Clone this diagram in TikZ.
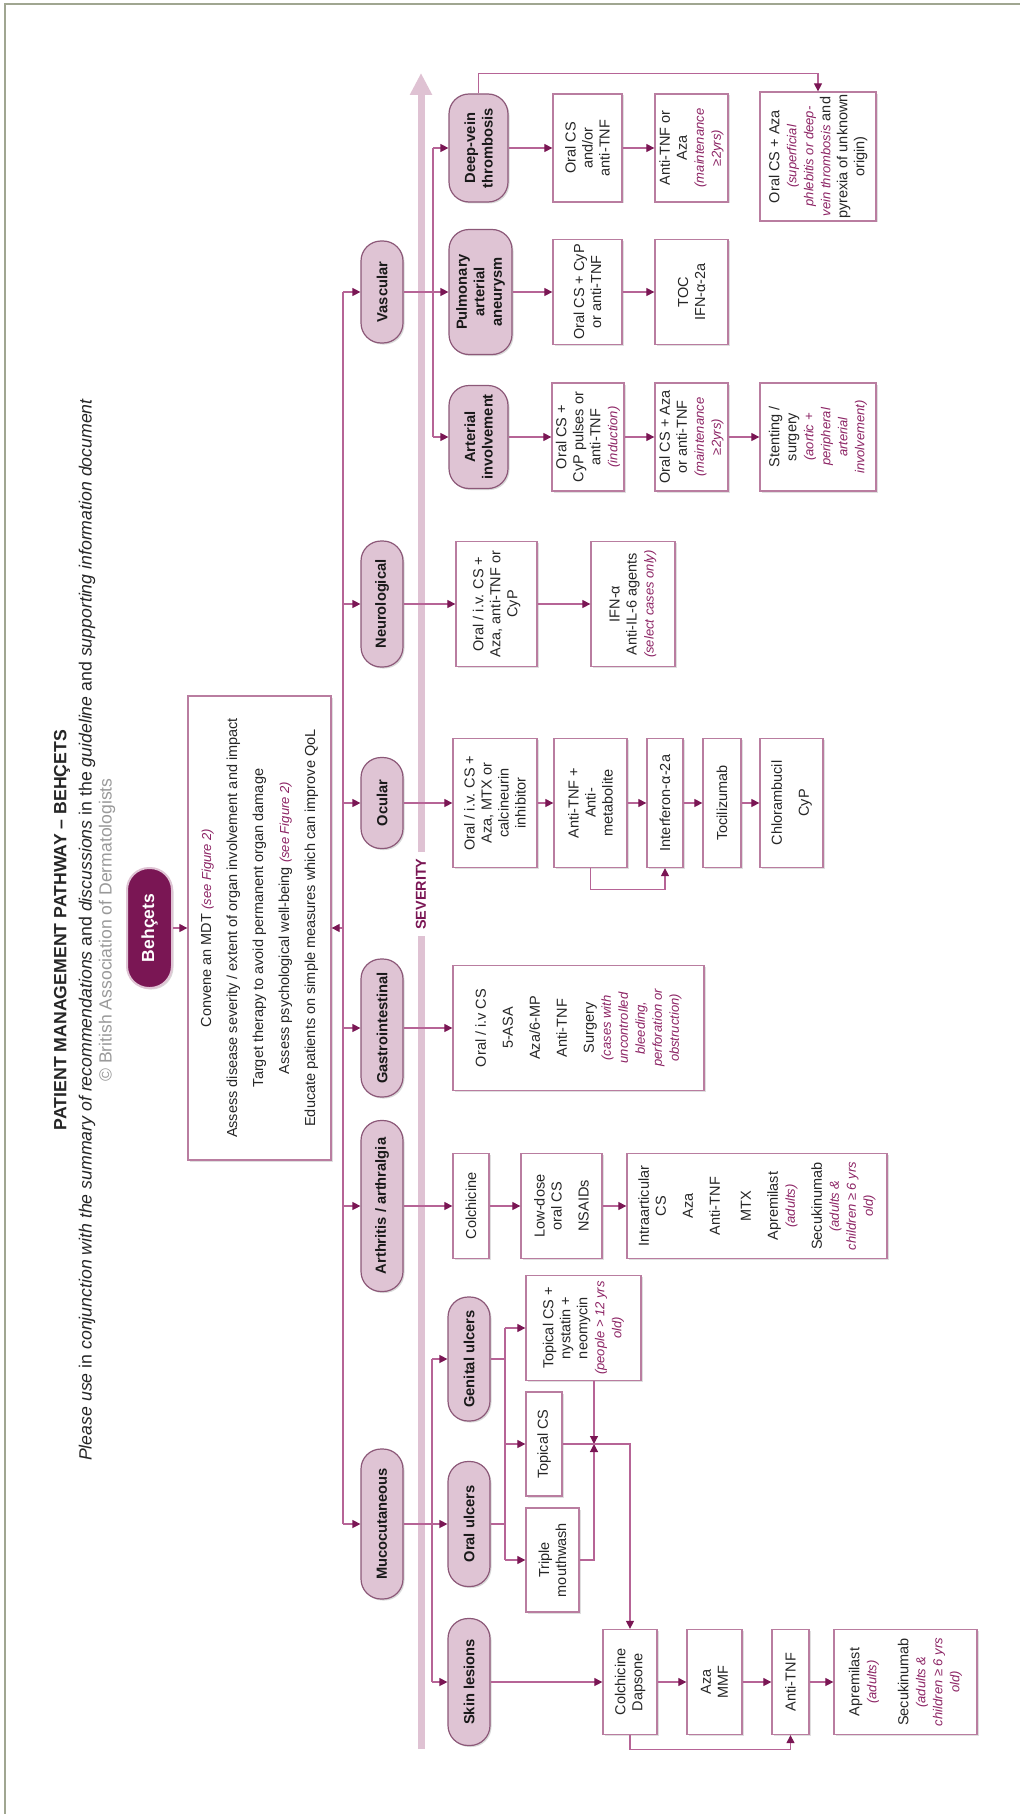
\documentclass[tikz,border=0pt]{standalone}
\usepackage{fontspec}
\setmainfont{Liberation Sans}
\usetikzlibrary{arrows.meta,shadows}

\definecolor{maroon}{RGB}{122,22,84}
\definecolor{notecol}{RGB}{140,35,100}
\definecolor{linecol}{RGB}{182,100,150}
\definecolor{boxline}{RGB}{185,125,160}
\definecolor{pillfill}{RGB}{223,196,212}
\definecolor{pillline}{RGB}{140,88,120}
\definecolor{sevcol}{RGB}{223,194,211}
\definecolor{framecol}{RGB}{160,166,145}

\newcommand{\notetext}[1]{{\color{notecol}\itshape\fontsize{13}{17}\selectfont #1}}

\tikzset{
  heading/.style={rotate=90, inner sep=0pt, text=black!85},
  pill/.style={rotate=90, draw=pillline, line width=1.2pt, fill=pillfill, rounded corners=20pt,
    minimum height=42pt, align=center, inner sep=1pt, text=black!90,
    font=\bfseries\fontsize{14.7}{17.5}\selectfont,
    drop shadow={shadow xshift=1.5pt, shadow yshift=-1.5pt, opacity=0.3}},
  startpill/.style={rotate=90, fill=maroon, draw=pillfill, line width=2pt, text=white,
    rounded corners=22pt, minimum width=120pt, minimum height=45pt,
    font=\bfseries\fontsize{17.5}{20}\selectfont,
    drop shadow={shadow xshift=1.5pt, shadow yshift=-1.5pt, opacity=0.3}},
  tbox/.style={rotate=90, draw=boxline, line width=1.3pt, fill=white, align=center,
    inner sep=2pt, text=black!85, font=\fontsize{14.5}{17}\selectfont,
    drop shadow={shadow xshift=1.5pt, shadow yshift=-1.5pt, opacity=0.25}},
  dims/.style 2 args={minimum width=#1pt, minimum height=#2pt},
  wire/.style={draw=linecol, line width=1.2pt},
  arr/.style={draw=linecol, line width=1.2pt, -{Triangle[length=8pt,width=8pt,color=maroon]}},
}

\begin{document}
\begin{tikzpicture}[x=1pt,y=-1pt]
  \useasboundingbox (0,0) rectangle (1020,1814);
  \draw[framecol, line width=2pt] (5,1814) -- (5,4) -- (1020,4);

  % heading
  \node[heading, font=\bfseries\fontsize{17.7}{20}\selectfont] (title) at (62,930) {PATIENT MANAGEMENT PATHWAY – BEHÇETS};
  \node[heading, font=\itshape\fontsize{17.7}{20}\selectfont] (subtitle) at (87,930) {Please use \textup{in} conjunction with the summary of recommendations \textup{and} discussions \textup{in the} guideline \textup{and} supporting information document};
  \node[heading, text=black!40, font=\fontsize{17.6}{20}\selectfont] (copyr) at (107,930) {© British Association of Dermatologists};

  \node[startpill] (behcets) at (149.5,928) {Behçets};
  \node[tbox, dims={464}{143}] (mdt) at (259.5,928) {Convene an MDT \notetext{(see Figure 2)}\\[9pt]
    Assess disease severity / extent of organ involvement and impact\\[9pt]
    Target therapy to avoid permanent organ damage\\[9pt]
    Assess psychological well-being \notetext{(see Figure 2)}\\[9pt]
    Educate patients on simple measures which can improve QoL};

  % severity scale
  \coordinate (sevbot) at (421,1749);
  \coordinate (sevtop) at (421,73);
  \node[rotate=90, text=maroon, inner sep=6pt, font=\bfseries\fontsize{14.4}{17}\selectfont] (sev) at (421,894) {SEVERITY};
  \draw[sevcol, line width=7pt] (sevbot) -- (sev.west);
  \draw[sevcol, line width=7pt, -{Triangle[length=22pt,width=21pt]}] (sev.east) -- (sevtop);

  % organ groups
  \node[pill, minimum width=102pt] (vasc) at (382,292) {Vascular};
  \node[pill, minimum width=126pt] (neuro) at (382,604) {Neurological};
  \node[pill, minimum width=91pt] (ocul) at (382,803) {Ocular};
  \node[pill, minimum width=138pt] (gastro) at (382,1028) {Gastrointestinal};
  \node[pill, minimum width=171pt] (arthr) at (382,1206) {Arthritis / arthralgia};
  \node[pill, minimum width=150pt] (muco) at (382,1524) {Mucocutaneous};

  \node[pill, minimum width=108pt, minimum height=59pt] (dvt) at (478.5,148) {Deep-vein\\thrombosis};
  \node[pill, minimum width=125pt, minimum height=63pt] (paa) at (480.5,292) {Pulmonary\\arterial\\aneurysm};
  \node[pill, minimum width=103pt, minimum height=59pt] (ai) at (478.5,437) {Arterial\\involvement};
  \node[pill, minimum width=124pt] (genital) at (469,1359) {Genital ulcers};
  \node[pill, minimum width=125pt] (oralu) at (469,1524) {Oral ulcers};
  \node[pill, minimum width=127pt] (skin) at (469,1682) {Skin lesions};

  % vascular
  \node[tbox, dims={108}{69}] (dvt1) at (587.5,148) {Oral CS\\and/or\\anti-TNF};
  \node[tbox, dims={108}{73}] (dvt2) at (691.5,148) {Anti-TNF or\\Aza\\\notetext{(maintenance}\\\notetext{≥2yrs)}};
  \node[tbox, dims={125}{116}] (dvt3) at (818,156.5) {Oral CS + Aza\\\notetext{(superficial}\\\notetext{phlebitis or deep-}\\\notetext{vein thrombosis} and\\pyrexia of unknown\\origin)};
  \node[tbox, dims={105}{69}] (pul1) at (587.5,292) {Oral CS + CyP\\or anti-TNF};
  \node[tbox, dims={105}{73}] (pul2) at (691.5,292) {TOC\\IFN-α-2a};
  \node[tbox, dims={108}{72}] (art1) at (588,437) {Oral CS +\\CyP pulses or\\anti-TNF\\\notetext{(induction)}};
  \node[tbox, dims={108}{73}] (art2) at (691.5,437) {Oral CS + Aza\\or anti-TNF\\\notetext{(maintenance}\\\notetext{≥2yrs)}};
  \node[tbox, dims={108}{116}] (art3) at (818,437) {Stenting /\\surgery\\\notetext{(aortic +}\\\notetext{peripheral}\\\notetext{arterial}\\\notetext{involvement)}};

  % neurological
  \node[tbox, dims={125}{81}] (neu1) at (496.5,604) {Oral / i.v. CS +\\Aza,  anti-TNF or\\CyP};
  \node[tbox, dims={125}{84}] (neu2) at (633,604) {IFN-α\\Anti-IL-6 agents\\\notetext{(select cases only)}};

  % ocular
  \node[tbox, dims={129}{84}] (ocu1) at (495,803) {Oral / i.v. CS +\\Aza, MTX or\\calcineurin\\inhibitor};
  \node[tbox, dims={129}{73}] (ocu2) at (590.5,803) {Anti-TNF +\\Anti-\\metabolite};
  \node[tbox, dims={129}{36}] (ocu3) at (665,803) {Interferon-α-2a};
  \node[tbox, dims={129}{38}] (ocu4) at (722,803) {Tocilizumab};
  \node[tbox, dims={129}{63}] (ocu5) at (791.5,803) {Chlorambucil\\[10pt]CyP};

  % gastrointestinal
  \node[tbox, dims={125}{251}] (gi1) at (578.5,1028) {Oral / i.v CS\\[10pt]5-ASA\\[10pt]Aza/6-MP\\[10pt]Anti-TNF\\[10pt]Surgery\\\notetext{(cases with}\\\notetext{uncontrolled}\\\notetext{bleeding,}\\\notetext{perforation or}\\\notetext{obstruction)}};

  % arthritis
  \node[tbox, dims={105}{36}] (arth1) at (471,1206) {Colchicine};
  \node[tbox, dims={105}{81}] (arth2) at (561.5,1206) {Low-dose\\oral CS\\[10pt]NSAIDs};
  \node[tbox, dims={105}{260}] (arth3) at (757,1206) {Intraarticular\\CS\\[10pt]Aza\\[10pt]Anti-TNF\\[14pt]MTX\\[10pt]Apremilast\\\notetext{(adults)}\\[10pt]Secukinumab\\\notetext{(adults \&}\\\notetext{children ≥ 6 yrs}\\\notetext{old)}};

  % mucocutaneous
  \node[tbox, dims={105}{115}] (gen1) at (583.5,1328) {Topical CS +\\nystatin +\\neomycin\\\notetext{(people > 12 yrs}\\\notetext{old)}};
  \node[tbox, dims={104}{36}] (oral1) at (544,1444) {Topical CS};
  \node[tbox, dims={104}{53}] (oral2) at (552.5,1560) {Triple\\mouthwash};
  \node[tbox, dims={105}{54}] (skin1) at (630,1682) {Colchicine\\Dapsone};
  \node[tbox, dims={105}{55}] (skin2) at (714.5,1682) {Aza\\MMF};
  \node[tbox, dims={105}{37}] (skin3) at (790.5,1682) {Anti-TNF};
  \node[tbox, dims={105}{143}] (skin4) at (905.5,1682) {Apremilast\\\notetext{(adults)}\\[15pt]Secukinumab\\\notetext{(adults \&}\\\notetext{children ≥ 6 yrs}\\\notetext{old)}};

  \coordinate (spine) at (343,0);
  \coordinate (vbus) at (433,0);
  \coordinate (mbus) at (432,0);
  \coordinate (obus) at (505,0);
  \coordinate (merge) at (594,1444);

  % links
  \draw[arr] (behcets.south) -- (mdt.north);
  \draw[wire] (spine |- vasc) -- (spine |- muco);
  \draw[arr] (spine |- mdt) -- (mdt.south);
  \draw[arr] (spine |- vasc) -- (vasc.north);
  \draw[arr] (spine |- neuro) -- (neuro.north);
  \draw[arr] (spine |- ocul) -- (ocul.north);
  \draw[arr] (spine |- gastro) -- (gastro.north);
  \draw[arr] (spine |- arthr) -- (arthr.north);
  \draw[arr] (spine |- muco) -- (muco.north);

  \draw[arr] (vasc.south) -- (paa.north);
  \draw[wire] (vbus |- dvt) -- (vbus |- ai);
  \draw[arr] (vbus |- dvt) -- (dvt.north);
  \draw[arr] (vbus |- ai) -- (ai.north);
  \draw[arr] (dvt.south) -- (dvt1.north);
  \draw[arr] (dvt1.south) -- (dvt2.north);
  \draw[arr] (dvt.east) -- ++(0,-20) -| (dvt3.east);
  \draw[arr] (paa.south) -- (pul1.north);
  \draw[arr] (pul1.south) -- (pul2.north);
  \draw[arr] (ai.south) -- (art1.north);
  \draw[arr] (art1.south) -- (art2.north);
  \draw[arr] (art2.south) -- (art3.north);

  \draw[arr] (neuro.south) -- (neu1.north);
  \draw[arr] (neu1.south) -- (neu2.north);

  \draw[arr] (ocul.south) -- (ocu1.north);
  \draw[arr] (ocu1.south) -- (ocu2.north);
  \draw[arr] (ocu2.south) -- (ocu3.north);
  \draw[arr] (ocu3.south) -- (ocu4.north);
  \draw[arr] (ocu4.south) -- (ocu5.north);
  \draw[arr] (ocu2.west) -- ++(0,21) -| (ocu3.west);

  \draw[arr] (gastro.south) -- (gi1.north);

  \draw[arr] (arthr.south) -- (arth1.north);
  \draw[arr] (arth1.south) -- (arth2.north);
  \draw[arr] (arth2.south) -- (arth3.north);

  \draw[arr] (muco.south) -- (oralu.north);
  \draw[wire] (mbus |- genital) -- (mbus |- skin);
  \draw[arr] (mbus |- genital) -- (genital.north);
  \draw[arr] (mbus |- skin) -- (skin.north);
  \draw[wire] (genital.south) -- (obus |- genital);
  \draw[wire] (oralu.south) -- (obus |- oralu);
  \draw[wire] (obus |- gen1) -- (obus |- oral2);
  \draw[arr] (obus |- gen1) -- (gen1.north);
  \draw[arr] (obus |- oral1) -- (oral1.north);
  \draw[arr] (obus |- oral2) -- (oral2.north);
  \draw[arr] (merge |- gen1.west) -- (merge);
  \draw[arr] (oral2.south) -| (merge);
  \draw[arr] (oral1.south) -| (skin1.east);
  \draw[arr] (skin.south) -- (skin1.north);
  \draw[arr] (skin1.south) -- (skin2.north);
  \draw[arr] (skin2.south) -- (skin3.north);
  \draw[arr] (skin3.south) -- (skin4.north);
  \draw[arr] (skin1.west) -- ++(0,14) -| (skin3.west);
\end{tikzpicture}
\end{document}
